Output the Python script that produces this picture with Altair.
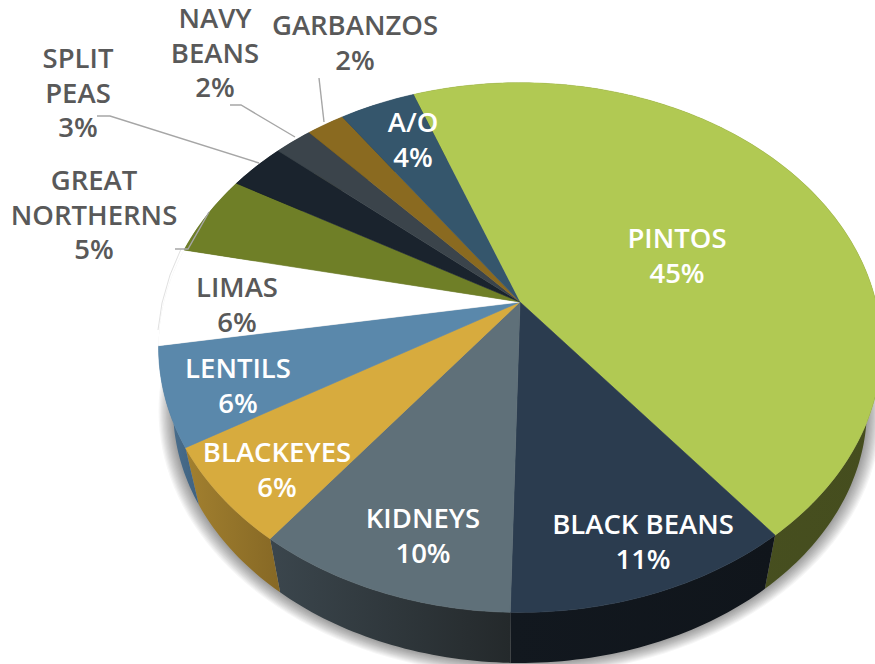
import math
import altair as alt
import pandas as pd

# Share of each bean class, clockwise from the first slice
classes = ["PINTOS", "BLACK BEANS", "KIDNEYS", "BLACKEYES", "LENTILS", "LIMAS",
           "GREAT NORTHERNS", "SPLIT PEAS", "NAVY BEANS", "GARBANZOS", "A/O"]
shares = [45, 11, 10, 6, 6, 6, 5, 3, 2, 2, 4]
face_colors = ["#b1c953", "#2b3c4f", "#5f7079", "#d7ab3e", "#5a88ab", "#ffffff",
               "#6f7f27", "#1a232d", "#3b444b", "#8a6a20", "#35566c"]
side_stops = [("#4b5322", "#454d1e"), ("#12181f", "#10151b"), ("#3b464d", "#24292b"),
              ("#a2802f", "#866825"), ("#4d7392", "#3f6280"), ("#d0d0d0", "#d0d0d0"),
              ("#4a5520", "#4a5520"), ("#10151b", "#10151b"), ("#262c30", "#262c30"),
              ("#5a4515", "#5a4515"), ("#223847", "#223847")]

# Text blocks: lines, centre x, first-line y, colour
INK = "#595959"
label_blocks = [
    (["PINTOS", "45%"], 677, 240, "#ffffff"),
    (["BLACK BEANS", "11%"], 643, 526, "#ffffff"),
    (["KIDNEYS", "10%"], 423, 520, "#ffffff"),
    (["BLACKEYES", "6%"], 277, 454, "#ffffff"),
    (["LENTILS", "6%"], 238, 370, "#ffffff"),
    (["LIMAS", "6%"], 237, 289, INK),
    (["GREAT", "NORTHERNS", "5%"], 94, 182, INK),
    (["SPLIT", "PEAS", "3%"], 78, 60, INK),
    (["NAVY", "BEANS", "2%"], 215, 20, INK),
    (["GARBANZOS", "2%"], 355, 27, INK),
    (["A/O", "4%"], 413, 124, "#ffffff"),
]
LINE_STEP = 34.5

# Leader lines from outside labels to their slices
leaders = [
    [(319, 78), (324, 122)],
    [(230, 105), (241, 105), (295, 137)],
    [(97, 116), (110, 116), (259, 163)],
    [(175, 249), (188, 249), (209, 212)],
]
limas_edge = [(181, 249), (170, 275), (162, 303), (158, 330)]

# Tilted disc: perspective projection of a unit circle around the apex
CX, CY = 520, 302
RX, RY, K = 356, 257, 0.172
START = -20.3
DEPTH_SCALE, DEPTH_DROP = 0.96, 63


def rim(theta):
    a = math.radians(theta)
    sx, cy = math.sin(a), math.cos(a)
    w = 1 + K * cy
    return RX * sx / w, RY * cy / w


def lower(p, grow=1.0):
    return p[0] * DEPTH_SCALE * grow, p[1] * DEPTH_SCALE * grow - DEPTH_DROP


def arc_range(t0, t1, step=1.0):
    n = max(2, int(abs(t1 - t0) / step) + 1)
    return [t0 + (t1 - t0) * i / (n - 1) for i in range(n)]


def to_pie(p):
    return p[0] - CX, CY - p[1]


x_scale = alt.Scale(domain=[-CX, 875 - CX], range=[0, 875])
y_scale = alt.Scale(domain=[CY - 664, CY], range=[664, 0])
X = alt.X("x:Q", scale=x_scale, axis=None)
Y = alt.Y("y:Q", scale=y_scale, axis=None)


def polygon(points, fill, stroke=None, opacity=1.0):
    frame = pd.DataFrame({"x": [p[0] for p in points], "y": [p[1] for p in points],
                          "i": list(range(len(points)))})
    return alt.Chart(frame).mark_line(
        fill=fill, stroke=stroke or "transparent", strokeWidth=0.6 if stroke else 0,
        opacity=opacity, clip=True, interpolate="linear",
    ).encode(x=X, y=Y, order="i:Q")


def path(points, color, width):
    frame = pd.DataFrame({"x": [p[0] for p in points], "y": [p[1] for p in points],
                          "i": list(range(len(points)))})
    return alt.Chart(frame).mark_line(color=color, strokeWidth=width, clip=True).encode(
        x=X, y=Y, order="i:Q")


spans = []
t = START
for share in shares:
    spans.append((t, t + share * 3.6))
    t += share * 3.6

layers = []

# Soft shadow under the lower edge of the disc
outline = [rim(a) for a in arc_range(0, 360, 2)]
for n in range(12):
    g = 1.0 + 0.0035 * (12 - n)
    layers.append(polygon([lower(p, g) for p in outline], "#000000", opacity=0.035))

# Side walls
for (t0, t1), (c0, c1) in zip(spans, side_stops):
    top = [rim(a) for a in arc_range(t0, t1)]
    wall = top + [lower(p) for p in reversed(top)]
    fill = alt.Gradient(gradient="linear", x1=0, x2=1, y1=0, y2=0,
                        stops=[alt.GradientStop(color=c0, offset=0),
                               alt.GradientStop(color=c1, offset=1)])
    layers.append(polygon(wall, fill))

# Top faces
for (t0, t1), color in zip(spans, face_colors):
    layers.append(polygon([(0, 0)] + [rim(a) for a in arc_range(t0, t1)], color, stroke=color))

# Leader lines
layers.append(path([to_pie(p) for p in limas_edge], "#d8d8d8", 0.8))
for line in leaders:
    layers.append(path([to_pie(p) for p in line], "#a6a6a6", 1.4))

# Labels
rows = []
for lines, lx, ly, color in label_blocks:
    for i, text in enumerate(lines):
        px, py = to_pie((lx, ly + i * LINE_STEP))
        rows.append({"x": px, "y": py, "text": text, "color": color})
layers.append(alt.Chart(pd.DataFrame(rows)).mark_text(
    font="Open Sans", fontWeight=600, fontSize=27.5, align="center", baseline="middle",
).encode(x=X, y=Y, text="text:N", color=alt.Color("color:N", scale=None)))

chart = alt.layer(*layers).properties(
    width=875, height=664, padding=0, autosize=alt.AutoSizeParams(type="none"),
    background="#ffffff",
).configure_view(stroke=None)

chart.save("out.html", embed_options={"renderer": "svg", "actions": False})
